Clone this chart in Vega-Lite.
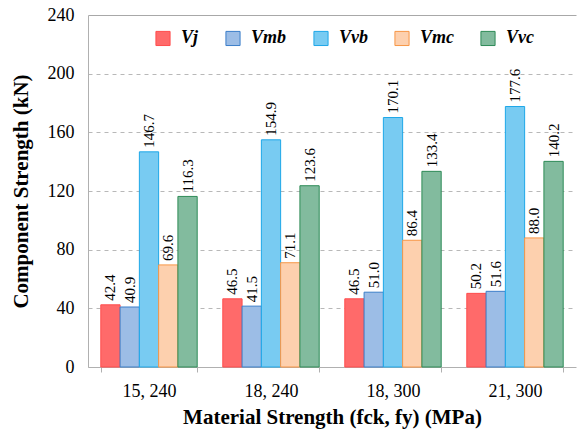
{
  "$schema": "https://vega.github.io/schema/vega-lite/v6.json",
  "autosize": "none",
  "width": 488,
  "height": 352,
  "padding": {"left": 88, "top": 15, "right": 1, "bottom": 64},
  "background": "white",
  "config": {
    "font": "Times New Roman, Liberation Serif, serif",
    "view": {"stroke": null}
  },
  "data": {
    "values": [
      {"m": "15, 240", "s": "Vj", "v": 42.4},
      {"m": "15, 240", "s": "Vmb", "v": 40.9},
      {"m": "15, 240", "s": "Vvb", "v": 146.7},
      {"m": "15, 240", "s": "Vmc", "v": 69.6},
      {"m": "15, 240", "s": "Vvc", "v": 116.3},
      {"m": "18, 240", "s": "Vj", "v": 46.5},
      {"m": "18, 240", "s": "Vmb", "v": 41.5},
      {"m": "18, 240", "s": "Vvb", "v": 154.9},
      {"m": "18, 240", "s": "Vmc", "v": 71.1},
      {"m": "18, 240", "s": "Vvc", "v": 123.6},
      {"m": "18, 300", "s": "Vj", "v": 46.5},
      {"m": "18, 300", "s": "Vmb", "v": 51.0},
      {"m": "18, 300", "s": "Vvb", "v": 170.1},
      {"m": "18, 300", "s": "Vmc", "v": 86.4},
      {"m": "18, 300", "s": "Vvc", "v": 133.4},
      {"m": "21, 300", "s": "Vj", "v": 50.2},
      {"m": "21, 300", "s": "Vmb", "v": 51.6},
      {"m": "21, 300", "s": "Vvb", "v": 177.6},
      {"m": "21, 300", "s": "Vmc", "v": 88.0},
      {"m": "21, 300", "s": "Vvc", "v": 140.2}
    ]
  },
  "encoding": {
    "x": {
      "field": "m", "type": "nominal", "sort": null,
      "scale": {"paddingInner": 0.21, "paddingOuter": 0.105},
      "axis": {
        "title": "Material Strength (fck, fy) (MPa)",
        "titleFontSize": 21, "titleFontWeight": "bold", "titleColor": "black", "titlePadding": 6,
        "labelAngle": 0, "labelFontSize": 18, "labelColor": "black", "labelPadding": 10,
        "tickBand": "extent", "tickColor": "#b0b0b0", "tickSize": 5,
        "domainColor": "#b0b0b0"
      }
    },
    "xOffset": {
      "field": "s", "type": "nominal", "sort": ["Vj", "Vmb", "Vvb", "Vmc", "Vvc"],
      "scale": {"paddingInner": 0, "paddingOuter": 0}
    },
    "y": {
      "field": "v", "type": "quantitative",
      "scale": {"domain": [0, 240]},
      "axis": {
        "title": "Component Strength (kN)",
        "titleFontSize": 21, "titleFontWeight": "bold", "titleColor": "black", "titlePadding": 16,
        "values": [0, 40, 80, 120, 160, 200, 240],
        "labelFontSize": 18, "labelColor": "black", "labelPadding": 14,
        "ticks": false, "domainColor": "#b0b0b0",
        "grid": true,
        "gridDash": {"condition": {"test": "datum.value == 240", "value": []}, "value": [4, 4]},
        "gridColor": {"condition": {"test": "datum.value == 240", "value": "#a8a8a8"}, "value": "#b8b8b8"}
      }
    }
  },
  "layer": [
    {
      "mark": {"type": "bar", "strokeWidth": 1},
      "encoding": {
        "fill": {
          "field": "s", "type": "nominal", "sort": ["Vj", "Vmb", "Vvb", "Vmc", "Vvc"],
          "scale": {"domain": ["Vj", "Vmb", "Vvb", "Vmc", "Vvc"], "range": ["#ff6a6a", "#9cbde6", "#78cbf2", "#fdd0ae", "#82bb9e"]},
          "legend": {
            "title": null, "orient": "none", "direction": "horizontal", "columns": 5,
            "legendX": 66, "legendY": 14,
            "symbolType": "square", "symbolSize": 200, "symbolStrokeWidth": 1,
            "labelFontSize": 18, "labelFontWeight": "bold", "labelFontStyle": "italic",
            "labelColor": "black", "labelOffset": 9, "columnPadding": 24
          }
        },
        "stroke": {
          "field": "s", "type": "nominal",
          "scale": {"domain": ["Vj", "Vmb", "Vvb", "Vmc", "Vvc"], "range": ["#ff4d4d", "#3b7ec9", "#1ea7e8", "#f79646", "#2e8b57"]},
          "legend": null
        }
      }
    },
    {
      "mark": {"type": "text", "angle": -90, "align": "left", "baseline": "middle", "dx": 4, "fontSize": 15, "color": "black"},
      "encoding": {
        "text": {"field": "v", "type": "quantitative", "format": ".1f"}
      }
    }
  ]
}
